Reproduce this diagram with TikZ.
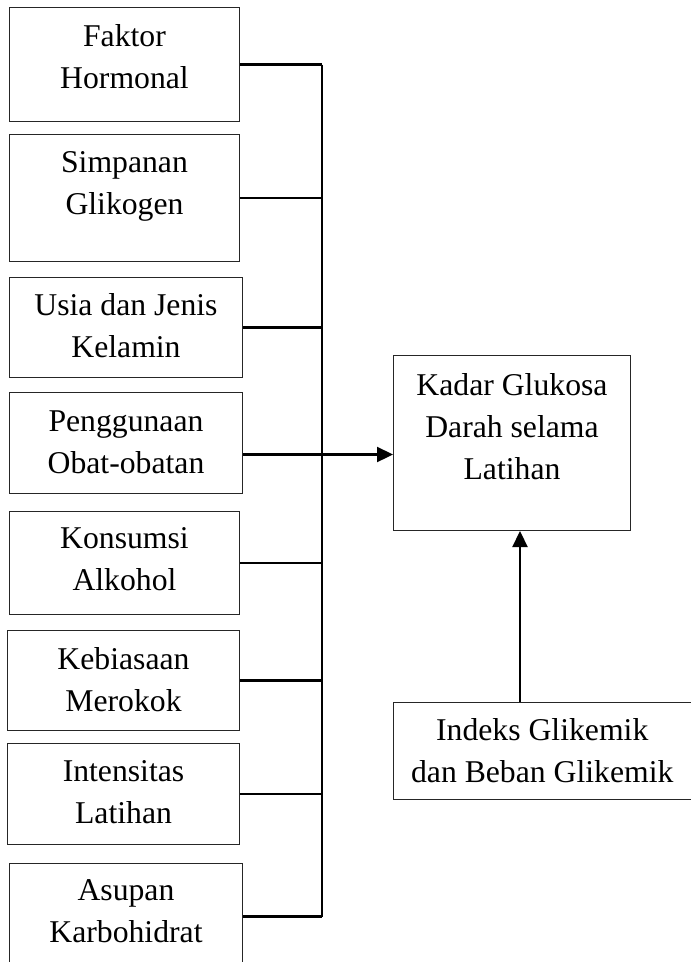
\documentclass[tikz,border=0pt]{standalone}
\usepackage{fontspec}
\setmainfont{Liberation Serif}
\usetikzlibrary{positioning,arrows.meta}
\tikzset{
  kotak/.style={draw=black!85, line width=1pt, anchor=north west, inner sep=0pt},
  teks/.style={align=center, inner sep=0pt, font=\fontsize{31.7}{41.6}\selectfont},
  garis/.style={line width=2.3pt},
  panah/.style={line width=2.3pt, -{Triangle[length=16pt,width=15pt]}},
}
\begin{document}
\begin{tikzpicture}[x=1pt,y=-1pt]
\useasboundingbox (0,0) rectangle (691,962);
% kotak faktor
\node[kotak, minimum width=230pt, minimum height=114pt] (b1) at (9,7) {};
\node[kotak, minimum width=230pt, minimum height=127pt] (b2) at (9,134) {};
\node[kotak, minimum width=233pt, minimum height=100pt] (b3) at (9,277) {};
\node[kotak, minimum width=233pt, minimum height=101pt] (b4) at (9,392) {};
\node[kotak, minimum width=230pt, minimum height=103pt] (b5) at (9,511) {};
\node[kotak, minimum width=232pt, minimum height=100pt] (b6) at (7,630) {};
\node[kotak, minimum width=232pt, minimum height=101pt] (b7) at (7,743) {};
\node[kotak, minimum width=233pt, minimum height=106pt] (b8) at (9,863) {};
\node[teks, below=17.6pt of b1.north] (t1) {Faktor\\Hormonal};
\node[teks, below=17.6pt of b2.north] (t2) {Simpanan\\Glikogen};
\node[teks, below=16.6pt of b3.north] (t3) {Usia dan Jenis\\Kelamin};
\node[teks, below=18.6pt of b4.north] (t4) {Penggunaan\\Obat-obatan};
\node[teks, below=16.6pt of b5.north] (t5) {Konsumsi\\Alkohol};
\node[teks, below=17.6pt of b6.north] (t6) {Kebiasaan\\Merokok};
\node[teks, below=17.6pt of b7.north] (t7) {Intensitas\\Latihan};
\node[teks, below=16.6pt of b8.north] (t8) {Asupan\\Karbohidrat};
% kotak kanan
\node[kotak, minimum width=237pt, minimum height=175pt] (kadar) at (393,355) {};
\node[kotak, minimum width=297.5pt, minimum height=97pt] (indeks) at (393,702) {};
\node[teks, below=18.6pt of kadar.north] (tk) {Kadar Glukosa\\Darah selama\\Latihan};
\node[teks, below=16.6pt of indeks.north] (ti) {Indeks Glikemik\\dan Beban Glikemik};
% garis
\coordinate (bus) at (322,0);
\coordinate (c4) at ([yshift=-11.5pt]b4.east);
\coordinate (p) at (520,0);
\foreach \i in {1,2,3,5,6,7,8}
  \draw[garis] (b\i.east) -- (b\i.east -| bus);
\draw[garis] (b1.east -| bus) -- (b8.east -| bus);
\draw[panah] (c4) -- (c4 -| kadar.west);
\draw[panah] (indeks.north -| p) -- (kadar.south -| p);
\end{tikzpicture}
\end{document}
